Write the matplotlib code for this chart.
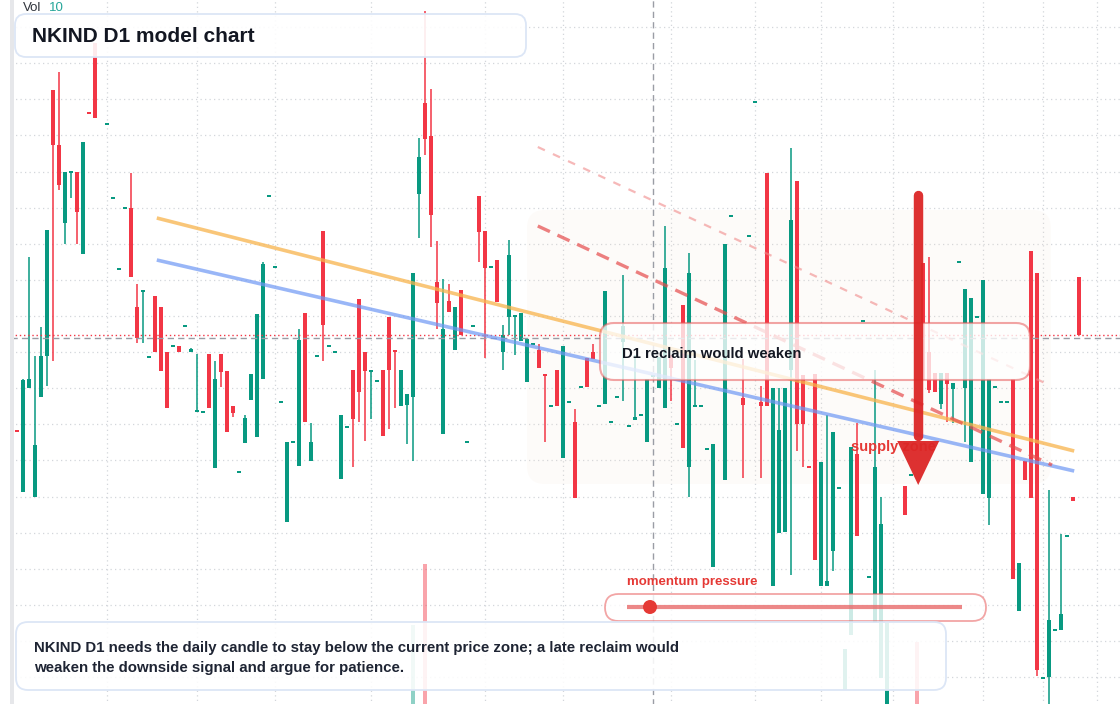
import matplotlib
matplotlib.use("Agg")
import matplotlib.pyplot as plt
import numpy as np
from matplotlib.patches import FancyBboxPatch, Polygon, Circle
from matplotlib.transforms import IdentityTransform
from matplotlib.colors import to_rgba

plt.rcParams['font.family'] = ['Liberation Sans', 'DejaVu Sans']

N = None
# daily candles, one row per session: open, high, low, close (None = no candle)
ohlc = [
    (27.3, 27.3, 27.2, 27.2), (21.2, 32.5, 21.2, 32.4), (31.6, 44.7, 31.6, 32.5), (20.7, 34.8, 20.7, 25.9),
    (30.7, 37.7, 30.7, 34.8), (34.8, 47.4, 31.8, 47.4), (61.4, 61.4, 34.3, 55.9), (55.9, 63.2, 51.4, 51.9),
    (48.1, 53.2, 46.0, 53.2), (53.1, 53.2, 50.6, 53.2), (53.2, 53.2, 46.0, 49.2), (45.0, 56.2, 45.0, 56.2),
    (59.1, 59.1, 59.0, 59.0), (66.1, 66.1, 58.6, 58.6), N, (57.9, 58.0, 57.9, 58.0),
    (50.5, 50.6, 50.5, 50.6), (43.4, 43.5, 43.4, 43.5), (49.5, 49.6, 49.5, 49.6), (49.6, 53.1, 42.7, 42.7),
    (39.7, 42.0, 36.1, 36.6), (41.2, 41.3, 36.1, 41.3), (34.6, 34.7, 34.6, 34.7), (40.8, 40.8, 35.2, 35.2),
    (39.7, 39.7, 33.3, 33.3), (35.2, 35.2, 29.6, 29.6), (35.7, 35.8, 35.7, 35.8), (35.8, 35.8, 35.2, 35.2),
    (37.7, 37.8, 37.7, 37.8), (35.2, 35.6, 35.2, 35.5), (29.2, 35.0, 29.2, 29.3), (29.1, 29.2, 29.1, 29.2),
    (35.0, 35.0, 29.6, 29.6), (23.6, 34.3, 23.6, 32.5), (35.0, 35.0, 31.7, 33.2), (33.3, 33.3, 27.2, 27.2),
    (29.8, 29.8, 28.7, 29.1), (23.1, 23.2, 23.1, 23.2), (26.1, 28.9, 26.1, 28.6), (30.4, 33.0, 30.4, 33.0),
    (26.7, 39.0, 26.7, 39.0), (32.5, 44.2, 32.5, 44.0), (50.7, 50.8, 50.7, 50.8), (43.6, 43.7, 43.6, 43.7),
    (30.1, 30.2, 30.1, 30.2), (18.2, 26.2, 18.2, 26.2), (26.1, 26.2, 26.1, 26.2), (23.8, 37.5, 23.8, 36.4),
    (39.1, 39.1, 28.2, 28.2), (24.3, 28.1, 24.3, 26.2), (34.7, 34.8, 34.7, 34.8), (47.3, 47.3, 34.3, 37.9),
    (35.7, 35.8, 35.7, 35.8), (35.1, 35.2, 35.1, 35.2), (22.5, 28.9, 22.5, 28.9), (27.6, 27.7, 27.6, 27.7),
    (33.4, 33.4, 23.7, 28.5), (40.5, 40.5, 28.2, 31.2), (35.2, 35.2, 26.3, 33.3), (33.2, 33.3, 28.5, 33.3),
    (32.2, 32.3, 32.2, 32.3), (33.4, 33.4, 26.8, 26.8), (38.7, 38.7, 27.5, 33.4), (35.3, 35.3, 29.6, 35.2),
    (29.8, 33.4, 29.8, 33.4), (29.9, 31.0, 26.0, 31.0), (30.7, 43.1, 24.3, 43.1), (51.0, 56.6, 46.6, 54.7),
    (60.1, 69.3, 54.9, 56.5), (56.8, 61.5, 45.7, 48.9), (42.2, 46.3, 37.5, 40.1), (27.0, 42.5, 27.0, 37.5),
    (40.3, 42.0, 39.2, 39.2), (35.4, 39.7, 35.4, 39.7), (41.4, 41.4, 36.9, 36.9), (26.1, 26.2, 26.1, 26.2),
    (37.7, 37.8, 37.7, 37.8), (50.8, 50.8, 44.2, 47.2), (47.3, 47.3, 34.6, 43.6), (43.6, 43.7, 43.6, 43.7),
    (44.4, 44.4, 40.2, 40.2), (35.2, 37.9, 33.4, 36.9), (38.7, 46.4, 36.9, 44.9), (38.7, 38.8, 34.9, 38.8),
    (36.3, 39.1, 36.3, 39.1), (32.2, 36.5, 32.2, 36.5), (35.9, 36.0, 35.9, 36.0), (35.4, 36.0, 33.6, 33.6),
    (33.0, 33.0, 26.2, 32.8), (29.7, 29.8, 29.7, 29.8), (33.4, 33.4, 29.8, 29.8), (24.6, 35.8, 24.6, 35.8),
    (30.1, 30.2, 30.1, 30.2), (28.2, 29.5, 20.6, 20.6), (31.6, 31.7, 31.6, 31.7), (34.6, 34.6, 31.7, 31.7),
    (35.2, 36.0, 34.5, 34.5), (29.7, 29.8, 29.7, 29.8), (30.0, 41.3, 30.0, 41.3), (28.1, 28.2, 28.1, 28.2),
    (30.6, 30.7, 30.6, 30.7), (36.2, 42.9, 30.3, 37.8), (27.7, 27.8, 27.7, 27.8), (28.4, 34.9, 28.4, 28.7),
    (28.8, 28.9, 28.8, 28.9), (26.2, 32.5, 26.2, 32.5), (32.7, 32.8, 32.7, 32.8), (31.6, 34.7, 31.6, 34.7),
    (29.6, 47.8, 29.6, 43.6), (34.9, 34.9, 30.3, 33.6), (27.9, 28.0, 27.9, 28.0), (39.9, 39.9, 25.6, 25.6),
    (23.7, 45.1, 20.7, 43.1), (29.7, 34.4, 29.7, 29.8), (29.7, 29.8, 29.7, 29.8), (25.4, 25.5, 25.4, 25.5),
    (13.7, 26.0, 13.7, 26.0), N, (22.4, 46.0, 22.4, 46.0), (48.7, 48.8, 48.7, 48.8),
    N, (30.6, 34.5, 22.6, 29.9), (46.7, 46.8, 46.7, 46.8), (60.1, 60.2, 60.1, 60.2),
    (30.2, 31.8, 22.6, 29.8), (53.1, 53.1, 29.8, 29.8), (11.8, 31.6, 11.8, 31.6), (17.1, 31.6, 17.1, 27.4),
    (17.2, 31.6, 17.2, 31.6), (33.4, 55.6, 12.9, 48.4), (52.3, 52.3, 25.3, 28.0), (32.9, 32.9, 23.7, 28.0),
    (23.7, 23.7, 23.6, 23.6), (33.0, 33.0, 14.4, 14.4), (11.8, 24.2, 11.8, 24.2), (11.8, 28.9, 11.8, 12.3),
    (15.3, 27.2, 13.3, 27.2), (21.5, 21.6, 21.5, 21.6), (1.4, 5.5, 1.4, 5.5), (6.9, 25.7, 6.9, 25.7),
    (25.0, 28.1, 16.8, 16.8), (38.2, 38.3, 38.2, 38.3), (12.6, 12.7, 12.6, 12.7), (8.1, 33.4, 8.1, 23.7),
    (2.6, 20.7, 2.6, 18.0), (-2.0, 8.1, -2.0, 8.1), N, N,
    (21.8, 21.8, 18.9, 18.9), (22.8, 22.9, 22.8, 22.9), N, (44.1, 44.1, 32.4, 32.4),
    (35.2, 44.7, 31.1, 31.4), (33.1, 33.1, 31.2, 31.2), (30.0, 33.1, 29.5, 33.1), (33.1, 33.1, 28.2, 32.0),
    (31.5, 32.1, 28.1, 32.1), (44.1, 44.2, 44.1, 44.2), (31.6, 41.5, 26.2, 41.5), (24.2, 40.6, 24.2, 40.6),
    (38.6, 38.7, 38.6, 38.7), (21.0, 42.4, 21.0, 42.4), (20.6, 32.5, 17.9, 32.5), (31.6, 31.7, 31.6, 31.7),
    (30.1, 30.2, 30.1, 30.2), (30.1, 30.2, 30.1, 30.2), (32.5, 32.5, 12.5, 12.5), (9.3, 14.1, 9.3, 14.1),
    (24.3, 24.3, 22.4, 22.4), (45.3, 45.3, 20.6, 20.6), (43.1, 43.1, 2.8, 3.4), (2.5, 2.6, 2.5, 2.6),
    (2.7, 21.4, -1.0, 8.4), (7.3, 7.4, 7.3, 7.4), (7.4, 17.0, 7.4, 9.0), (16.7, 16.8, 16.7, 16.8),
    (20.7, 20.7, 20.3, 20.3), (42.7, 42.7, 36.9, 36.9),
]
# only three sessions show a volume bar
vol_idx = [66, 68, 150]
vol_val = [7.9, 14.0, 6.2]
vol_dir = [1, -1, -1]

month_idx = [15, 30, 43, 59, 78, 91, 109, 123, 134, 146, 161, 171, 180]
last_price = 36.95
cross_idx = 106
cross_price = 36.6

# model lines (start index, start price, end index, end price)
orange_line = (23.3, 48.6, 176.2, 25.3)
blue_line = (23.3, 44.4, 176.2, 23.3)
red_dash = (86.8, 47.8, 172.5, 23.9)
red_dash_light = (86.8, 55.7, 172.4, 31.8)
zone = (85.0, 172.3, 22.0, 49.4)
arrow_idx = 150.2
arrow_top, arrow_base, arrow_tip = 50.9, 26.3, 21.9

UP, DN = "#089981", "#F23645"
W, H = 1120, 704

fig = plt.figure(figsize=(W / 100, H / 100), dpi=100)
ax = fig.add_axes([0, 0, 1, 1])
ax.set_xlim(-17 / 6, (W - 17) / 6)
ax.set_ylim(0, 70.4)
ax.axis("off")
fig.patch.set_facecolor("white")

px = IdentityTransform()


def rbox(x0, y0, x1, y1, r, fc, ec, lw, z):
    p = FancyBboxPatch((x0, H - y1), x1 - x0, y1 - y0,
                       boxstyle="round,pad=0,rounding_size=%g" % r,
                       transform=px, fc=fc, ec=ec, lw=lw, zorder=z)
    ax.add_patch(p)


# grid
gx0 = -1.0
for yv in np.arange(2.7, 70, 3.61):
    ax.plot([gx0, 190], [yv, yv], color="#D3D6DB", lw=0.9, ls=(0, (1, 2.6)), zorder=1)
for xv in month_idx:
    ax.plot([xv, xv], [-5, 80], color="#D3D6DB", lw=0.9, ls=(0, (1, 2.6)), zorder=1)

# supply zone shading
zx0, zx1, zy0, zy1 = zone
ax.add_patch(FancyBboxPatch((zx0, zy0), zx1 - zx0, zy1 - zy0,
                            boxstyle="round,pad=0,rounding_size=3",
                            mutation_aspect=0.6,
                            fc=to_rgba("#F5E3D3", 0.13), ec="none", zorder=1.5))

# volume
for i, v, d in zip(vol_idx, vol_val, vol_dir):
    ax.bar(i, v, width=0.83, bottom=0, color=UP if d > 0 else DN, alpha=0.45, zorder=2)

# candles
for i, c in enumerate(ohlc):
    if c is None:
        continue
    o, h, l, cl = c
    col = UP if cl >= o else DN
    ax.vlines(i, l, h, color=col, lw=1.1, zorder=3)
    lo = min(o, cl)
    ht = max(abs(cl - o), 0.17)
    ax.bar(i, ht, width=0.83, bottom=lo, color=col, lw=0, zorder=3)

# price / crosshair lines
ax.plot([-1, 190], [last_price] * 2, color=DN, lw=1.0, ls=(0, (1, 2)), zorder=4)
ax.plot([-1, 190], [cross_price] * 2, color="#9A9DA5", lw=1.0, ls=(0, (4.5, 3)), zorder=4)
ax.plot([cross_idx, cross_idx], [-5, 80], color="#9A9DA5", lw=1.0, ls=(0, (4.5, 3)), zorder=4)

# model lines
x0, y0, x1, y1 = orange_line
ax.plot([x0, x1], [y0, y1], color="#F8B44C", lw=2.6, alpha=0.75, zorder=5, solid_capstyle="butt")
x0, y0, x1, y1 = blue_line
ax.plot([x0, x1], [y0, y1], color="#6E98F4", lw=2.6, alpha=0.7, zorder=5, solid_capstyle="butt")
x0, y0, x1, y1 = red_dash
ax.plot([x0, x1], [y0, y1], color="#E64B4B", lw=2.4, alpha=0.7, ls=(0, (4, 2.5)), zorder=5)
x0, y0, x1, y1 = red_dash_light
ax.plot([x0, x1], [y0, y1], color="#F08A8A", lw=1.6, alpha=0.6, ls=(0, (3.5, 4)), zorder=5)

# left border strip
ax.add_patch(plt.Rectangle((10, 0), 4, H, transform=px, fc="#E6E7EA", ec="none", zorder=6))

# title box
rbox(15, 14, 526, 57, 11, to_rgba("white", 0.9), "#DCE6F6", 1.3, 7)
ax.text(32, H - 36, "NKIND D1 model chart", transform=px, fontsize=15, fontweight="bold",
        color="#131722", va="center", zorder=8)
ax.text(23, H - 8, "Vol", transform=px, fontsize=9.5, color="#30343C", va="center", zorder=8)
ax.text(49, H - 8, "10", transform=px, fontsize=9.5, color="#26A69A", va="center", zorder=8)

# D1 reclaim box
rbox(600, 323, 1030, 380, 14, to_rgba("white", 0.78), to_rgba("#E85C5C", 0.55), 1.5, 7)
ax.text(622, H - 354, "D1 reclaim would weaken", transform=px, fontsize=10.7, fontweight="bold",
        color="#131722", va="center", zorder=8)

# supply zone label and arrow
ax.text(851, H - 447, "supply zone", transform=px, fontsize=10.5, fontweight="bold",
        color="#E53935", va="center", zorder=8)
ax.plot([arrow_idx, arrow_idx], [arrow_top, arrow_base + 0.5], color="#DC2626", lw=6.8,
        solid_capstyle="round", zorder=9, alpha=0.95)
ax.add_patch(Polygon([(arrow_idx - 3.5, arrow_base), (arrow_idx + 3.5, arrow_base),
                      (arrow_idx, arrow_tip)], closed=True, fc="#DC2626", ec="none", alpha=0.95, zorder=9))

# momentum pressure gauge
ax.text(627, H - 582, "momentum pressure", transform=px, fontsize=9.5, fontweight="bold",
        color="#E53935", va="center", zorder=8)
rbox(605, 594, 986, 621, 13.5, to_rgba("white", 0.8), to_rgba("#E85C5C", 0.55), 1.3, 7)
ax.plot([627, 962], [H - 607, H - 607], transform=px, color="#E86A6A", lw=3, alpha=0.8,
        solid_capstyle="butt", zorder=8)
ax.add_patch(Circle((650, H - 607), 7, transform=px, fc="#E53935", ec="none", zorder=9))

# bottom note
rbox(16, 622, 946, 690, 12, to_rgba("white", 0.88), "#DCE6F6", 1.3, 7)
ax.text(34, H - 648, "NKIND D1 needs the daily candle to stay below the current price zone; a late reclaim would",
        transform=px, fontsize=10.8, fontweight="bold", color="#1E2433", va="center", zorder=8)
ax.text(34, H - 668, "weaken the downside signal and argue for patience.",
        transform=px, fontsize=10.8, fontweight="bold", color="#1E2433", va="center", zorder=8)

fig.savefig("out.png", dpi=100)
